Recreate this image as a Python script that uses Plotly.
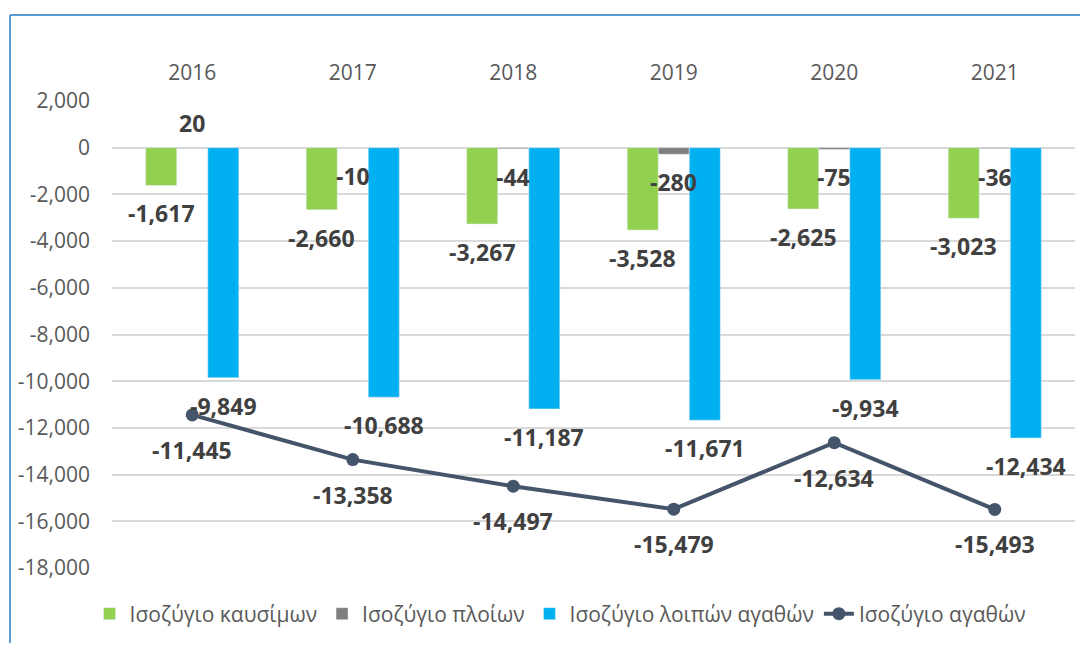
import plotly.graph_objects as go

# Trade balance components (million EUR)
years = ["2016", "2017", "2018", "2019", "2020", "2021"]
fuel_balance = [-1617, -2660, -3267, -3528, -2625, -3023]
ships_balance = [20, -10, -44, -280, -75, -36]
other_goods_balance = [-9849, -10688, -11187, -11671, -9934, -12434]
goods_balance = [-11445, -13358, -14497, -15479, -12634, -15493]

y_ticks = list(range(-18000, 2001, 2000))
y_tick_text = [f"{t:,}" for t in y_ticks]

FONT = "Open Sans"
LABEL_COLOR = "#404040"
AXIS_COLOR = "#595959"

fig = go.Figure()

fig.add_trace(go.Bar(x=years, y=fuel_balance, name="Ισοζύγιο καυσίμων",
                     marker_color="#92d050"))
fig.add_trace(go.Bar(x=years, y=ships_balance, name="Ισοζύγιο πλοίων",
                     marker_color="#7f7f7f"))
fig.add_trace(go.Bar(x=years, y=other_goods_balance, name="Ισοζύγιο λοιπών αγαθών",
                     marker_color="#00b0f0"))
fig.add_trace(go.Scatter(x=years, y=goods_balance, name="Ισοζύγιο αγαθών",
                         mode="lines+markers",
                         line=dict(color="#44546a", width=4),
                         marker=dict(color="#44546a", size=13)))

# data labels: (values, horizontal shift to the bar, vertical shift)
# annotation x uses the category index ("2016" would be read as index 2016)
label_sets = [
    (fuel_balance, -31, None),
    (ships_balance, 0, None),
    (other_goods_balance, 31, None),
    (goods_balance, 0, -35),
]
annotations = []
for values, dx, dy in label_sets:
    for i, v in enumerate(values):
        shift = dy if dy is not None else (24 if v > 0 else -28)
        annotations.append(dict(
            x=i, y=v, xref="x", yref="y", text=f"{v:,}", showarrow=False,
            xshift=dx, yshift=shift,
            font=dict(family=FONT, size=23, color=LABEL_COLOR, weight="bold"),
        ))

# page has an 8px body margin, so the figure is sized to fit inside the window
fig.update_layout(
    width=1072, height=635,
    barmode="group", bargap=0.42, bargroupgap=0,
    plot_bgcolor="white", paper_bgcolor="white",
    margin=dict(l=104, r=5, t=93, b=75),
    font=dict(family=FONT, size=21, color=AXIS_COLOR),
    annotations=annotations,
    legend=dict(orientation="h", xref="container", yref="container",
                x=0.515, xanchor="center", y=0.0457, yanchor="middle",
                font=dict(family=FONT, size=21, color=AXIS_COLOR),
                traceorder="normal"),
    shapes=[
        # chart frame (left and top edges)
        dict(type="line", xref="paper", yref="paper", x0=-0.1059, x1=-0.1059,
             y0=1.184, y1=-0.3, line=dict(color="#5b9bd5", width=2)),
        dict(type="line", xref="paper", yref="paper", x0=-0.1059, x1=1.05,
             y0=1.184, y1=1.184, line=dict(color="#5b9bd5", width=2)),
    ],
)

fig.update_xaxes(type="category", side="top", showgrid=False, ticks="",
                 showline=False, ticklabelstandoff=16, range=[-0.5, 5.5],
                 tickfont=dict(family=FONT, size=21, color=AXIS_COLOR))
fig.update_yaxes(range=[-18000, 2000], tickvals=y_ticks, ticktext=y_tick_text,
                 gridcolor="#d9d9d9", gridwidth=1.5, zeroline=False,
                 showline=False, ticklabelstandoff=21,
                 tickfont=dict(family=FONT, size=21, color=AXIS_COLOR))

fig.write_html("out.html")
